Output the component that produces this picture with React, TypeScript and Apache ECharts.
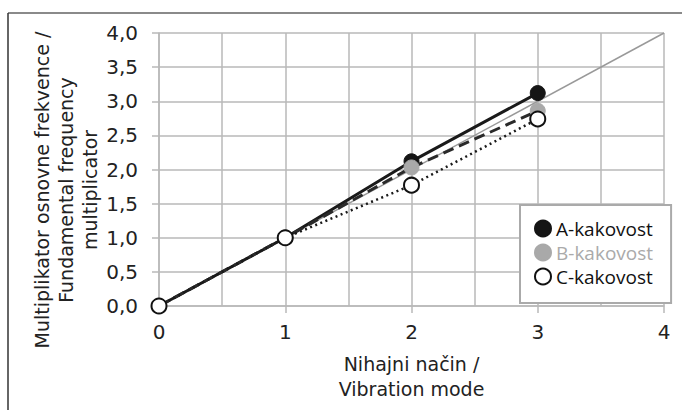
import React, { useEffect, useRef } from "react";
import * as echarts from "echarts";

const modes = [0, 1, 2, 3];
const aValues = [0, 1, 2.12, 3.12];
const bValues = [0, 1, 2.03, 2.86];
const cValues = [0, 1, 1.77, 2.74];
const refX = [0, 4];
const refY = [0, 4];
const seriesNames = ["A-kakovost", "B-kakovost", "C-kakovost"];
const xTitle = "Nihajni način /\nVibration mode";
const yTitle = "Multiplikator osnovne frekvence /\nFundamental frequency\nmultiplicator";

const pairs = (xs: number[], ys: number[]) => xs.map((x, i) => [x, ys[i]]);

export default function App() {
  const ref = useRef<HTMLDivElement>(null);
  useEffect(() => {
    if (!ref.current) return;
    const chart = echarts.init(ref.current, null, { renderer: "svg" });
    const gridColor = "#b9b9b9";
    const tickFont = { fontFamily: "DejaVu Sans", fontSize: 20, color: "#222" };
    chart.setOption({
      animation: false,
      backgroundColor: "#fff",
      grid: { left: 159, right: 18, top: 33, bottom: 114, containLabel: false },
      xAxis: {
        type: "value",
        min: 0,
        max: 4,
        interval: 1,
        axisLine: { show: true, lineStyle: { color: gridColor, width: 1.5 } },
        axisTick: { show: true, inside: false, length: 7, lineStyle: { color: gridColor, width: 1.5 } },
        axisLabel: { ...tickFont, margin: 16 },
        splitLine: { show: true, lineStyle: { color: gridColor, width: 1.5 } },
        minorTick: { show: false, splitNumber: 2 },
        minorSplitLine: { show: true, lineStyle: { color: gridColor, width: 1.5 } },
        name: xTitle,
        nameLocation: "middle",
        nameGap: 45,
        nameTextStyle: { fontFamily: "DejaVu Sans", fontSize: 19, color: "#222", lineHeight: 25 },
      },
      yAxis: {
        type: "value",
        min: 0,
        max: 4,
        interval: 0.5,
        axisLine: { show: true, lineStyle: { color: gridColor, width: 1.5 } },
        axisTick: { show: true, inside: false, length: 7, lineStyle: { color: gridColor, width: 1.5 } },
        axisLabel: {
          ...tickFont,
          margin: 21,
          formatter: (v: number) => v.toFixed(1).replace(".", ","),
        },
        splitLine: { show: true, lineStyle: { color: gridColor, width: 1.5 } },
      },
      legend: {
        orient: "vertical",
        left: 520,
        top: 205,
        padding: [14, 18, 17, 14],
        itemWidth: 16,
        itemHeight: 16,
        itemGap: 5,
        backgroundColor: "#fff",
        borderColor: "#aaa",
        borderWidth: 2,
        textStyle: { fontFamily: "Open Sans", fontSize: 19, color: "#111" },
        data: [
          { name: seriesNames[0], icon: "circle" },
          { name: seriesNames[1], icon: "circle", textStyle: { color: "#aaa" } },
          { name: seriesNames[2], icon: "circle" },
        ],
        z: 10,
      },
      graphic: [
        {
          type: "line",
          shape: { x1: 8, y1: 13, x2: 682, y2: 13 },
          style: { stroke: "#8a8a8a", lineWidth: 2 },
        },
        {
          type: "line",
          shape: { x1: 8, y1: 13, x2: 8, y2: 410 },
          style: { stroke: "#333", lineWidth: 1.5 },
        },
        {
          type: "text",
          x: 66,
          y: 190,
          rotation: Math.PI / 2,
          style: {
            text: yTitle,
            align: "center",
            verticalAlign: "middle",
            fontFamily: "DejaVu Sans",
            fontSize: 19,
            lineHeight: 24,
            fill: "#222",
          },
        },
      ],
      series: [
        {
          name: "ref",
          type: "line",
          data: pairs(refX, refY),
          symbol: "none",
          lineStyle: { color: "#999", width: 1.5 },
          z: 1,
        },
        {
          name: seriesNames[0],
          type: "line",
          data: pairs(modes, aValues),
          symbol: "circle",
          symbolSize: 15,
          itemStyle: { color: "#151515", borderColor: "#151515", borderWidth: 1 },
          lineStyle: { color: "#1a1a1a", width: 3 },
          z: 2,
        },
        {
          name: seriesNames[1],
          type: "line",
          data: pairs(modes, bValues),
          symbol: "circle",
          symbolSize: 15,
          itemStyle: { color: "#a9a9a9", borderColor: "#a9a9a9", borderWidth: 1 },
          lineStyle: { color: "#2a2a2a", width: 3, type: [11, 6] },
          z: 3,
        },
        {
          name: seriesNames[2],
          type: "line",
          data: pairs(modes, cValues),
          symbol: "circle",
          symbolSize: 15,
          itemStyle: { color: "#fff", borderColor: "#111", borderWidth: 2 },
          lineStyle: { color: "#1a1a1a", width: 2.5, type: [2, 3.5] },
          z: 4,
        },
      ],
    });
    return () => chart.dispose();
  }, []);
  return (
    <div
      ref={ref}
      style={{ position: "absolute", left: 0, top: 0, width: 682, height: 420 }}
    />
  );
}
